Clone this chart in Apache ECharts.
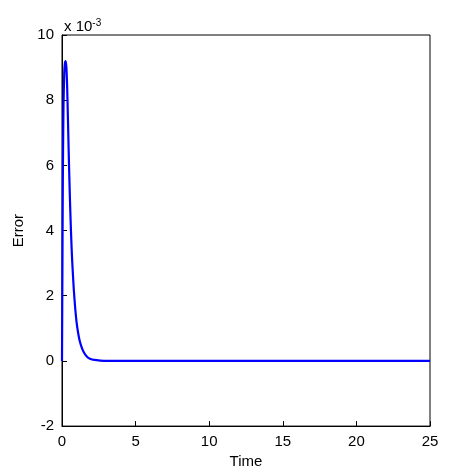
<!DOCTYPE html>
<html><head><meta charset="utf-8">
<script src="https://cdn.jsdelivr.net/npm/echarts@6/dist/echarts.min.js"></script>
<style>html,body{margin:0;background:#fff}#c{width:474px;height:474px}</style>
</head><body><div id="c"></div>
<script>
var times = [0, 0.03, 0.06, 0.1, 0.15, 0.2, 0.25, 0.3, 0.35, 0.4, 0.45, 0.5, 0.55, 0.6, 0.65, 0.7, 0.8, 0.9, 1.0, 1.1, 1.2, 1.35, 1.5, 1.7, 1.9, 2.2, 2.6, 3, 5, 10, 15, 20, 25];
var errors = [0, 3.0, 5.8, 7.8, 8.8, 9.15, 9.2, 9.0, 8.4, 7.5, 6.5, 5.6, 4.8, 4.1, 3.5, 3.0, 2.2, 1.6, 1.15, 0.85, 0.62, 0.4, 0.25, 0.13, 0.07, 0.03, 0.01, 0, 0, 0, 0, 0, 0];
var chart = echarts.init(document.getElementById('c'));
var font = 'Liberation Sans';
var ax = {
  axisLine: { onZero: false, lineStyle: { color: '#000' } },
  axisTick: { inside: true, length: 5, lineStyle: { color: '#000' } },
  splitLine: { show: false },
  axisLabel: { color: '#000', fontSize: 15, fontFamily: font }
};
chart.setOption({
  animation: false,
  grid: { left: 62, right: 44, top: 35, bottom: 47, show: true, borderColor: '#000', borderWidth: 1 },
  xAxis: Object.assign({ type: 'value', min: 0, max: 25, interval: 5, name: 'Time', nameLocation: 'middle', nameGap: 14,
    nameTextStyle: { color: '#000', fontSize: 15, fontFamily: font } }, ax),
  yAxis: Object.assign({ type: 'value', min: -2, max: 10, interval: 2, name: 'Error', nameLocation: 'middle', nameGap: 22,
    nameTextStyle: { color: '#000', fontSize: 15, fontFamily: font } }, ax),
  graphic: [{ type: 'text', left: 64, top: 18, style: {
    rich: { a: { fontSize: 15, fontFamily: font, fill: '#000' }, b: { fontSize: 10, fontFamily: font, fill: '#000', verticalAlign: 'top', padding: [0, 0, 8, 0] } },
    text: '{a|x 10}{b|-3}' } }],
  series: [{ type: 'line', data: times.map(function (t, i) { return [t, errors[i]]; }),
    smooth: 0.2, showSymbol: false, lineStyle: { color: '#0000ff', width: 2.2 } }]
});
</script></body></html>
